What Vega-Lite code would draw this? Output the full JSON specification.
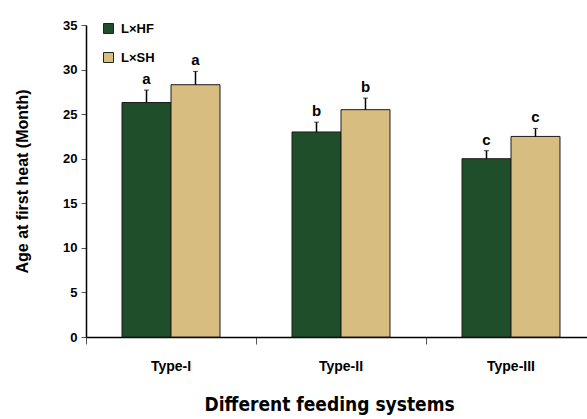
{
  "$schema": "https://vega.github.io/schema/vega-lite/v6.json",
  "autosize": "none",
  "width": 510,
  "height": 312,
  "padding": {"left": 86, "top": 25, "right": 0, "bottom": 82},
  "background": "white",
  "config": {
    "view": {"stroke": null},
    "font": "Liberation Sans"
  },
  "data": {
    "values": [
      {"type": "Type-I", "group": "L×HF", "age": 26.3, "upper": 27.7, "letter": "a"},
      {"type": "Type-I", "group": "L×SH", "age": 28.3, "upper": 29.8, "letter": "a"},
      {"type": "Type-II", "group": "L×HF", "age": 23.0, "upper": 24.1, "letter": "b"},
      {"type": "Type-II", "group": "L×SH", "age": 25.5, "upper": 26.8, "letter": "b"},
      {"type": "Type-III", "group": "L×HF", "age": 20.0, "upper": 20.9, "letter": "c"},
      {"type": "Type-III", "group": "L×SH", "age": 22.5, "upper": 23.4, "letter": "c"}
    ]
  },
  "encoding": {
    "x": {
      "field": "type",
      "type": "nominal",
      "sort": ["Type-I", "Type-II", "Type-III"],
      "scale": {"paddingInner": 0, "paddingOuter": 0},
      "axis": {
        "title": "Different feeding systems",
        "titleFont": "DejaVu Sans Condensed",
        "titleFontSize": 19,
        "titleFontWeight": "bold",
        "titlePadding": 22,
        "titleColor": "black",
        "titleAnchor": "start",
        "titleX": 118,
        "labelAngle": 0,
        "labelFontSize": 14,
        "labelFontWeight": "bold",
        "labelColor": "black",
        "labelPadding": 15,
        "bandPosition": 0,
        "tickSize": 7,
        "tickColor": "#555",
        "domainColor": "black",
        "domainWidth": 1.5
      }
    },
    "xOffset": {
      "field": "group",
      "type": "nominal",
      "scale": {"paddingInner": 0, "paddingOuter": 0.735}
    }
  },
  "layer": [
    {
      "mark": {"type": "bar", "stroke": "#1a1a1a", "strokeWidth": 1},
      "encoding": {
        "y": {
          "field": "age",
          "type": "quantitative",
          "scale": {"domain": [0, 35], "nice": false},
          "axis": {
            "title": "Age at first heat (Month)",
            "titleFontSize": 16,
            "titleFontWeight": "bold",
            "titleColor": "black",
            "titlePadding": 32,
            "values": [0, 5, 10, 15, 20, 25, 30, 35],
            "grid": false,
            "labelFontSize": 13,
            "labelFontWeight": "bold",
            "labelColor": "black",
            "labelPadding": 4,
            "tickSize": 5,
            "tickColor": "#555",
            "domainColor": "black",
            "domainWidth": 1.5
          }
        },
        "color": {
          "field": "group",
          "type": "nominal",
          "scale": {"domain": ["L×HF", "L×SH"], "range": ["#1f4f2a", "#d8bd80"]},
          "legend": {
            "title": null,
            "orient": "none",
            "legendX": 16,
            "legendY": -3,
            "symbolType": "square",
            "symbolSize": 100,
            "symbolStrokeColor": "#222",
            "symbolStrokeWidth": 1,
            "symbolOpacity": 1,
            "labelFontSize": 13,
            "labelFontWeight": "bold",
            "labelColor": "black",
            "labelOffset": 6,
            "rowPadding": 14
          }
        }
      }
    },
    {
      "mark": {"type": "rule", "color": "black", "strokeWidth": 1.5},
      "encoding": {
        "y": {"field": "age", "type": "quantitative"},
        "y2": {"field": "upper"}
      }
    },
    {
      "mark": {"type": "tick", "color": "black", "thickness": 1, "size": 5},
      "encoding": {
        "y": {"field": "upper", "type": "quantitative"}
      }
    },
    {
      "mark": {"type": "text", "fontSize": 15, "fontWeight": "bold", "color": "black", "baseline": "bottom", "dy": -3},
      "encoding": {
        "y": {"field": "upper", "type": "quantitative"},
        "text": {"field": "letter"}
      }
    }
  ]
}
